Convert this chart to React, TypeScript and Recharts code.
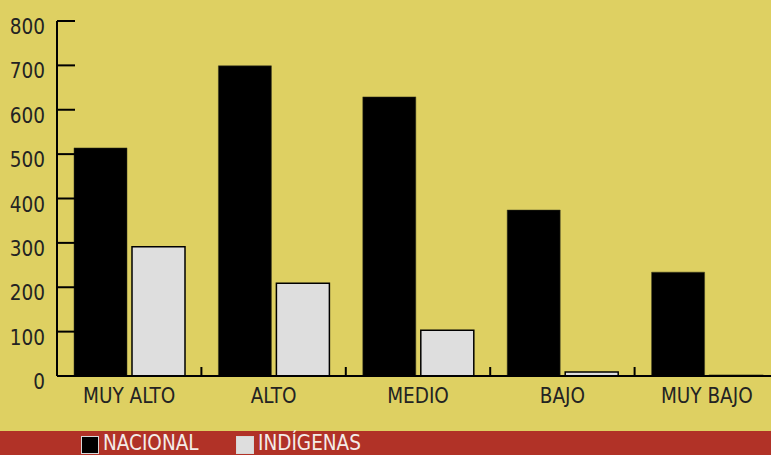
import React from "react";
import { Bar, BarChart, Legend, XAxis, YAxis } from "recharts";

const categories = ["MUY ALTO", "ALTO", "MEDIO", "BAJO", "MUY BAJO"];
const nacional = [514, 699, 629, 374, 234];
const indigenas = [291, 209, 103, 9, 1];
const yTicks = [0, 100, 200, 300, 400, 500, 600, 700, 800];

const data = categories.map((name, i) => ({
  name,
  nacional: nacional[i],
  indigenas: indigenas[i]
}));

const CHART_W = 780;
const CHART_H = 455;
const Y_AXIS_W = 57;
const RIGHT = 1;
const BAND = (CHART_W - Y_AXIS_W - RIGHT) / categories.length;

const font = "'DejaVu Sans Condensed', 'DejaVu Sans', sans-serif";
const bg = "#DED062";
const band = "#B13227";

// y ticks: label left of the axis, short mark pointing into the plot
function YTick({ x, y, payload }: any) {
  return (
    <g>
      <line x1={x} x2={x + 18} y1={y} y2={y} stroke="#000" strokeWidth={2} />
      <text x={x - 12} y={y + 13} textAnchor="end" fontSize={20.5} fill="#232323" fontFamily={font}>
        {payload.value}
      </text>
    </g>
  );
}

// x ticks: separator marks between categories, label under the center
function XTick({ x, y, payload }: any) {
  const edge = x + BAND / 2;
  return (
    <g>
      <line x1={edge} x2={edge} y1={y} y2={y - 9} stroke="#000" strokeWidth={2} />
      <text x={x} y={y + 27} textAnchor="middle" fontSize={20.5} fill="#232323" fontFamily={font}>
        {payload.value}
      </text>
    </g>
  );
}

function LegendBand() {
  const item = (label: string, fill: string, left: number) => (
    <div style={{ position: "absolute", left, top: 0, display: "flex", alignItems: "flex-start" }}>
      <span
        style={{
          width: 16,
          height: 16,
          marginTop: 5,
          background: fill,
          border: "1px solid #d8d8d8",
          display: "inline-block"
        }}
      />
      <span style={{ marginLeft: 4, fontSize: 20.5, color: "#f4ece8", fontFamily: font, lineHeight: "24px" }}>
        {label}
      </span>
    </div>
  );
  return (
    <div style={{ position: "relative", width: CHART_W, height: 24 }}>
      {item("NACIONAL", "#000000", 81)}
      {item("INDÍGENAS", "#dedede", 236)}
    </div>
  );
}

export default function App() {
  return (
    <div
      style={{
        position: "absolute",
        left: 0,
        top: 0,
        width: 771,
        height: 455,
        overflow: "hidden",
        background: bg
      }}
    >
      <BarChart
        width={CHART_W}
        height={CHART_H}
        data={data}
        margin={{ top: 21, right: RIGHT, bottom: 0, left: 0 }}
        barSize={53}
        barGap={5}
        style={{ fontFamily: font }}
      >
        <XAxis
          dataKey="name"
          height={55}
          tickSize={0}
          tickMargin={0}
          tick={<XTick />}
          axisLine={{ stroke: "#000", strokeWidth: 2 }}
          interval={0}
        />
        <YAxis
          width={Y_AXIS_W}
          domain={[0, 800]}
          ticks={yTicks}
          tickSize={0}
          tickMargin={0}
          tick={<YTick />}
          axisLine={{ stroke: "#000", strokeWidth: 2 }}
        />
        <Legend
          verticalAlign="bottom"
          content={<LegendBand />}
          wrapperStyle={{ left: 0, bottom: 0, width: CHART_W, height: 24, background: band }}
        />
        <Bar dataKey="nacional" fill="#000" stroke="#3a3a20" strokeWidth={0.5} isAnimationActive={false} />
        <Bar dataKey="indigenas" fill="#dedede" stroke="#000" strokeWidth={1.5} isAnimationActive={false} />
      </BarChart>
    </div>
  );
}
